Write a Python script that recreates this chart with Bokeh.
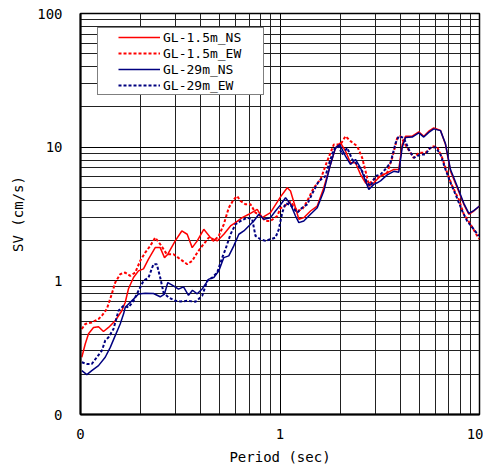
from bokeh.plotting import figure
from bokeh.models import FixedTicker, Legend, LegendItem
from bokeh.embed import file_html
from bokeh.resources import INLINE

# ---- data (period in sec, SV in cm/s) ----
ns15_T = [0.1015, 0.1056, 0.1097, 0.1162, 0.1231, 0.1304, 0.1382, 0.1493, 0.1611, 0.1675,
          0.174, 0.1844, 0.1953, 0.2069, 0.2192, 0.2368, 0.2509, 0.2637, 0.2739, 0.2984,
          0.3219, 0.3426, 0.363, 0.3846, 0.415, 0.4483, 0.4844, 0.5228, 0.5648, 0.5983,
          0.6465, 0.6977, 0.7687, 0.8143, 0.8961, 1.006, 1.087, 1.129, 1.196, 1.243,
          1.316, 1.422, 1.537, 1.658, 1.791, 1.897, 2.011, 2.13, 2.256, 2.39,
          2.532, 2.683, 2.787, 2.953, 3.19, 3.446, 3.719, 3.94, 4.098, 4.257,
          4.6, 4.963, 5.257, 5.569, 5.9, 6.376, 6.754, 7.154, 7.731, 8.343,
          8.84, 9.363, 10.0]
ns15_SV = [0.268, 0.337, 0.402, 0.448, 0.454, 0.418, 0.448, 0.503, 0.597, 0.689,
           0.872, 1.058, 1.187, 1.229, 1.452, 1.772, 1.772, 1.492, 1.582, 1.989,
           2.361, 2.231, 1.772, 1.989, 2.431, 2.104, 1.989, 2.231, 2.573, 2.724,
           2.969, 3.147, 3.428, 2.969, 3.234, 4.25, 4.97, 4.695, 3.524, 2.887,
           2.969, 3.33, 3.628, 4.97, 7.43, 9.88, 10.77, 9.335, 7.637, 7.637,
           6.256, 5.415, 5.117, 5.415, 6.076, 6.431, 6.819, 6.819, 10.47, 12.08,
           12.08, 13.01, 12.08, 13.16, 13.93, 13.32, 10.47, 6.622, 4.97, 3.736,
           3.147, 3.33, 3.628]

ew15_T = [0.1015, 0.1056, 0.1139, 0.1231, 0.1279, 0.1355, 0.1435, 0.1493, 0.1581, 0.1675,
          0.1775, 0.188, 0.1992, 0.211, 0.2236, 0.2368, 0.2509, 0.2708, 0.2926, 0.3161,
          0.3426, 0.363, 0.3846, 0.4074, 0.4397, 0.4659, 0.4934, 0.5228, 0.5537, 0.5866,
          0.6103, 0.6339, 0.6716, 0.7114, 0.7537, 0.7985, 0.846, 0.8961, 0.9683, 1.006,
          1.045, 1.129, 1.22, 1.292, 1.369, 1.477, 1.596, 1.724, 1.861, 2.011,
          2.13, 2.256, 2.438, 2.582, 2.683, 2.787, 2.953, 3.19, 3.446, 3.651,
          3.869, 4.018, 4.341, 4.685, 4.963, 5.362, 5.794, 6.138, 6.501, 6.887,
          7.298, 7.874, 8.343, 9.015, 9.739, 10.0]
ew15_SV = [0.436, 0.475, 0.488, 0.518, 0.548, 0.615, 0.796, 0.971, 1.122, 1.153,
           1.09, 1.153, 1.411, 1.626, 1.825, 2.104, 1.879, 1.582, 1.582, 1.452,
           1.332, 1.411, 1.626, 1.825, 2.104, 1.989, 2.167, 2.649, 3.524, 4.071,
           4.308, 3.954, 3.736, 3.736, 3.234, 3.056, 2.804, 2.804, 3.056, 3.5,
           3.6, 3.9, 3.33, 3.42, 3.95, 4.97, 5.74, 7.86, 10.47, 10.47,
           12.08, 11.09, 10.17, 8.32, 6.62, 5.27, 5.74, 6.08, 6.43, 8.32,
           11.73, 12.08, 9.88, 8.32, 9.07, 9.07, 10.17, 10.0, 8.32, 6.43,
           5.12, 4.07, 3.15, 2.65, 2.17, 2.06]

ns29_T = [0.1015, 0.1076, 0.1139, 0.1231, 0.1330, 0.1410, 0.1493, 0.1581, 0.1643, 0.1675,
          0.174, 0.1844, 0.1953, 0.211, 0.2322, 0.2509, 0.2636, 0.2739, 0.2926, 0.3099,
          0.3284, 0.3478, 0.3642, 0.3846, 0.4074, 0.4397, 0.4659, 0.4934, 0.5228, 0.5537,
          0.5866, 0.6218, 0.6587, 0.6977, 0.7393, 0.7831, 0.8295, 0.8961, 0.9494, 1.006,
          1.066, 1.129, 1.196, 1.243, 1.316, 1.422, 1.537, 1.658, 1.791, 1.897,
          1.994, 2.13, 2.256, 2.39, 2.532, 2.683, 2.787, 2.953, 3.071, 3.19,
          3.446, 3.719, 3.94, 4.098, 4.257, 4.6, 4.963, 5.257, 5.569, 5.9,
          6.376, 6.754, 7.154, 7.731, 8.343, 8.84, 9.363, 10.0]
ns29_SV = [0.213, 0.199, 0.213, 0.232, 0.268, 0.318, 0.389, 0.475, 0.564, 0.632,
           0.670, 0.730, 0.796, 0.809, 0.804, 0.760, 0.796, 0.971, 0.918, 0.867,
           0.902, 0.78, 0.85, 0.80, 0.87, 1.030, 1.058, 1.187, 1.492, 1.537,
           1.825, 2.231, 2.361, 2.573, 2.804, 3.147, 2.887, 2.969, 3.33, 3.70,
           4.183, 3.75, 3.056, 2.724, 2.804, 3.147, 3.524, 4.695, 7.43, 9.88,
           10.47, 8.57, 7.43, 8.09, 7.008, 5.576, 4.835, 5.268, 5.415, 5.6,
           6.2, 6.6, 6.5, 10.0, 11.8, 11.9, 12.8, 11.9, 12.9, 13.7,
           13.3, 10.6, 6.8, 5.1, 3.8, 3.2, 3.35, 3.63]

ew29_T = [0.1015, 0.1076, 0.1139, 0.1207, 0.1279, 0.1330, 0.1382, 0.1463, 0.155, 0.1643,
          0.174, 0.1844, 0.1953, 0.2069, 0.2192, 0.2322, 0.2413, 0.2509, 0.2607, 0.2761,
          0.2984, 0.3171, 0.3426, 0.3771, 0.4074, 0.4317, 0.4574, 0.4844, 0.5132, 0.5332,
          0.5648, 0.5983, 0.6339, 0.685, 0.7257, 0.7537, 0.7985, 0.846, 0.8961, 0.9494,
          0.9863, 1.026, 1.066, 1.129, 1.22, 1.292, 1.369, 1.458, 1.565, 1.691,
          1.756, 1.861, 1.971, 2.05, 2.172, 2.301, 2.438, 2.582, 2.736, 2.842,
          3.012, 3.19, 3.313, 3.58, 3.80, 3.94, 4.174, 4.422, 4.685, 5.062,
          5.362, 5.648, 6.017, 6.376, 6.754, 7.154, 7.581, 8.19, 8.677, 9.363,
          9.92]
ew29_SV = [0.246, 0.239, 0.239, 0.268, 0.300, 0.357, 0.378, 0.436, 0.597, 0.651,
           0.632, 0.709, 0.842, 1.0, 1.058, 1.332, 1.332, 1.058, 0.818, 0.751,
           0.709, 0.70, 0.709, 0.697, 0.773, 1.0, 1.058, 1.153, 1.492, 1.724,
           2.231, 2.649, 2.804, 2.969, 2.887, 2.167, 2.047, 1.989, 2.047, 2.104,
           2.431, 3.234, 3.8, 3.7, 3.234, 3.524, 3.736, 4.56, 5.576, 6.076,
           7.43, 9.61, 10.17, 8.82, 9.88, 8.09, 7.43, 6.622, 5.415, 5.117,
           6.076, 6.256, 6.62, 7.64, 10.77, 12.08, 11.73, 9.61, 8.32, 8.82,
           8.82, 9.88, 10.0, 8.82, 6.82, 5.42, 4.44, 3.33, 2.80, 2.43,
           2.17]

series_names = ["GL-1.5m_NS", "GL-1.5m_EW", "GL-29m_NS", "GL-29m_EW"]

x_ticks = [0.1, 1, 10]
y_ticks = [0.1, 1, 10, 100]
tick_label_map = {0.1: "0", 1: "1", 10: "10", 100: "100"}
x_minor = [m * d for d in (0.1, 1) for m in range(2, 10)]
y_minor = [m * d for d in (0.1, 1, 10) for m in range(2, 10)]

FONT = "DejaVu Sans Mono"

p = figure(width=483, height=471, x_axis_type="log", y_axis_type="log",
           x_range=(0.1, 10), y_range=(0.1, 100),
           output_backend="svg", toolbar_location=None,
           min_border_left=80, min_border_right=4, min_border_top=13, min_border_bottom=57)
p.background_fill_color = "white"
p.border_fill_color = "white"
p.outline_line_color = "black"
p.outline_line_width = 1.5

p.xaxis.ticker = FixedTicker(ticks=x_ticks, minor_ticks=x_minor)
p.yaxis.ticker = FixedTicker(ticks=y_ticks, minor_ticks=y_minor)
p.xaxis.major_label_overrides = {t: tick_label_map[t] for t in x_ticks}
p.yaxis.major_label_overrides = {t: tick_label_map[t] for t in y_ticks}

for ax in (p.xaxis[0], p.yaxis[0]):
    ax.axis_line_width = 2
    ax.axis_line_color = "black"
    ax.major_tick_out = 0
    ax.major_tick_in = 0
    ax.minor_tick_out = 0
    ax.minor_tick_in = 0
    ax.major_label_text_font = FONT
    ax.major_label_text_font_size = "14px"
    ax.major_label_text_color = "black"
    ax.axis_label_text_font = FONT
    ax.axis_label_text_font_size = "14px"
    ax.axis_label_text_font_style = "normal"
    ax.axis_label_text_color = "black"

p.xaxis.axis_label = "Period (sec)"
p.yaxis.axis_label = "SV (cm/s)"
p.xaxis.major_label_standoff = 14
p.yaxis.major_label_standoff = 18
p.xaxis.axis_label_standoff = 7
p.yaxis.axis_label_standoff = 8

for g in (p.xgrid[0], p.ygrid[0]):
    g.grid_line_color = "black"
    g.grid_line_width = 1
    g.minor_grid_line_color = "#222222"
    g.minor_grid_line_width = 1

r1 = p.line(ns15_T, ns15_SV, line_color="#FF0000", line_width=1.5)
r2 = p.line(ew15_T, ew15_SV, line_color="#FF0000", line_width=2, line_dash="3 2")
r3 = p.line(ns29_T, ns29_SV, line_color="#000080", line_width=1.5)
r4 = p.line(ew29_T, ew29_SV, line_color="#000080", line_width=2, line_dash="3 2")

legend = Legend(items=[LegendItem(label=n, renderers=[r]) for n, r in
                       zip(series_names, [r1, r2, r3, r4])],
                location=(17, 319))
try:
    legend.padding = (20, 1)
except Exception:
    legend.padding = 4
legend.spacing = 0
legend.glyph_width = 42
legend.glyph_height = 16
legend.label_height = 16
legend.label_width = 80
legend.label_standoff = 3
legend.label_text_font = FONT
legend.label_text_font_size = "13px"
legend.label_text_color = "black"
legend.border_line_color = "black"
legend.border_line_width = 1
legend.background_fill_color = "white"
legend.background_fill_alpha = 1
legend.margin = 0
p.add_layout(legend)

open("out.html", "w").write(file_html(p, INLINE))
